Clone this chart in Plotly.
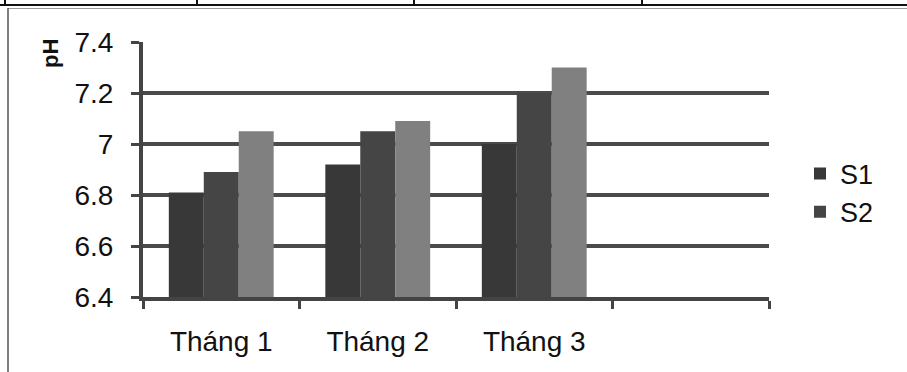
import plotly.graph_objects as go

categories = ["Tháng 1", "Tháng 2", "Tháng 3"]
# per-group values: bar1 (S1), bar2 (S2), bar3
bar1_values = [6.81, 6.92, 7.00]
bar2_values = [6.89, 7.05, 7.20]
bar3_values = [7.05, 7.09, 7.30]
y_ticks = [6.4, 6.6, 6.8, 7.0, 7.2, 7.4]
y_tick_labels = ["6.4", "6.6", "6.8", "7", "7.2", "7.4"]
legend_names = ["S1", "S2"]

W, H = 907, 372
L, R, T, B = 143, 769, 42, 297

FONT = "Arial, Liberation Sans, sans-serif"

fig = go.Figure()
fig.add_trace(go.Bar(x=categories, y=bar1_values, name=legend_names[0],
                     marker=dict(color="#383838", line=dict(width=0))))
fig.add_trace(go.Bar(x=categories, y=bar2_values, name=legend_names[1],
                     marker=dict(color="#454545", line=dict(width=0))))
fig.add_trace(go.Bar(x=categories, y=bar3_values, name="", showlegend=False,
                     marker=dict(color="#808080", line=dict(width=0))))

def px(xp):
    return (xp - L) / (R - L)

def py(yp):
    return (B - yp) / (B - T)

shapes = []
# table row borders at top
shapes.append(dict(type="line", xref="paper", yref="paper",
                   x0=px(0), x1=px(W), y0=py(5), y1=py(5),
                   line=dict(color="#111111", width=2)))
for xv in [5, 197, 414, 642]:
    shapes.append(dict(type="line", xref="paper", yref="paper",
                       x0=px(xv), x1=px(xv), y0=py(-2), y1=py(5),
                       line=dict(color="#111111", width=2)))
# box frame
shapes.append(dict(type="line", xref="paper", yref="paper",
                   x0=px(8), x1=px(W), y0=py(8.5), y1=py(8.5),
                   line=dict(color="#9a9a9a", width=1)))
shapes.append(dict(type="line", xref="paper", yref="paper",
                   x0=px(8), x1=px(8), y0=py(8), y1=py(H + 2),
                   line=dict(color="#555555", width=1.5)))

fig.update_layout(
    width=W, height=H,
    margin=dict(l=L, r=W - R, t=T, b=H - B, pad=0, autoexpand=False),
    paper_bgcolor="white", plot_bgcolor="white",
    barmode="group", bargap=0.33, bargroupgap=0,
    font=dict(family=FONT, color="#111111", size=28),
    showlegend=True,
    legend=dict(x=px(800), xanchor="left", y=py(193), yanchor="middle",
                font=dict(size=27, family=FONT, color="#111111"),
                bgcolor="rgba(0,0,0,0)", traceorder="normal",
                itemwidth=30, tracegroupgap=0),
    shapes=shapes,
    annotations=[dict(text="<b>pH</b>", xref="paper", yref="paper",
                      x=px(50), y=py(54), textangle=-90, showarrow=False,
                      font=dict(size=22, family=FONT, color="#111111"),
                      xanchor="center", yanchor="middle")],
)

fig.update_xaxes(
    type="category", automargin=False,
    categoryorder="array", categoryarray=categories + [" "],
    range=[-0.5, 3.5],
    showline=True, linecolor="#444444", linewidth=4,
    ticks="outside", tickson="boundaries", ticklen=8, tickwidth=3,
    tickcolor="#444444",
    showgrid=False,
    tickfont=dict(size=28, family=FONT, color="#111111"),
    ticklabelstandoff=16,
)
fig.update_yaxes(
    range=[6.4, 7.4], automargin=False,
    tickvals=y_ticks, ticktext=y_tick_labels,
    showline=True, linecolor="#444444", linewidth=4,
    ticks="outside", ticklen=8, tickwidth=3, tickcolor="#444444",
    showgrid=True, gridcolor="#4a4a4a", gridwidth=3.5,
    zeroline=False,
    tickfont=dict(size=28, family=FONT, color="#111111"),
    ticklabelstandoff=12,
)

fig.write_html("out.html",
               config={"displayModeBar": False},
               post_script="document.body.style.margin='0';document.body.style.overflow='hidden';")
